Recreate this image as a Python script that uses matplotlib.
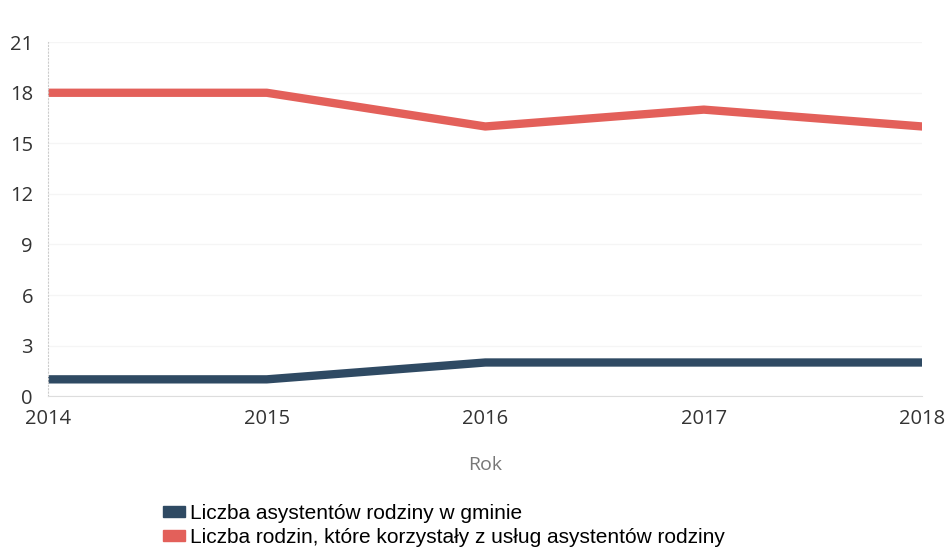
import matplotlib
matplotlib.use("Agg")
import matplotlib.pyplot as plt
from matplotlib.patches import Patch

# data
years = [2014, 2015, 2016, 2017, 2018]
asystenci = [1, 1, 2, 2, 2]
rodziny = [18, 18, 16, 17, 16]
y_ticks = [0, 3, 6, 9, 12, 15, 18, 21]
series_labels = [
    "Liczba asystentów rodziny w gminie",
    "Liczba rodzin, które korzystały z usług asystentów rodziny",
]

navy = "#2f4a63"
red = "#e3605a"

plt.rcParams["font.family"] = ["Open Sans", "DejaVu Sans"]

fig = plt.figure(figsize=(9.46, 5.48), dpi=100)
ax = fig.add_axes([0.051, 0.277, 0.924, 0.646])

ax.plot(years, asystenci, color=navy, linewidth=6, solid_capstyle="butt")
ax.plot(years, rodziny, color=red, linewidth=6, solid_capstyle="butt")

ax.set_xlim(2014, 2018)
ax.set_ylim(0, 21)
ax.set_xticks(years)
ax.set_yticks(y_ticks)
ax.tick_params(axis="both", length=0, labelsize=14.5, colors="#333333")
ax.tick_params(axis="x", pad=9)
ax.tick_params(axis="y", pad=11)

# faint horizontal grid
ax.grid(axis="y", color="#f5f5f5", linewidth=1)
ax.set_axisbelow(True)
for side in ["top", "right"]:
    ax.spines[side].set_visible(False)
ax.spines["bottom"].set_color("#dddddd")
ax.spines["left"].set_color("#cccccc")
ax.spines["left"].set_linestyle((0, (1, 2)))
ax.spines["left"].set_linewidth(0.8)

ax.set_xlabel("Rok", fontsize=14, color="#777777", labelpad=20)

handles = [Patch(color=navy), Patch(color=red)]
fig.legend(handles, series_labels, loc="upper left", bbox_to_anchor=(0.172, 0.08),
           frameon=False, prop={"family": ["Liberation Sans"], "size": 15},
           handlelength=1.05, handleheight=0.4, handletextpad=0.25,
           labelspacing=0.22, borderpad=0, borderaxespad=0)

fig.savefig("out.png", dpi=100, facecolor="white")
